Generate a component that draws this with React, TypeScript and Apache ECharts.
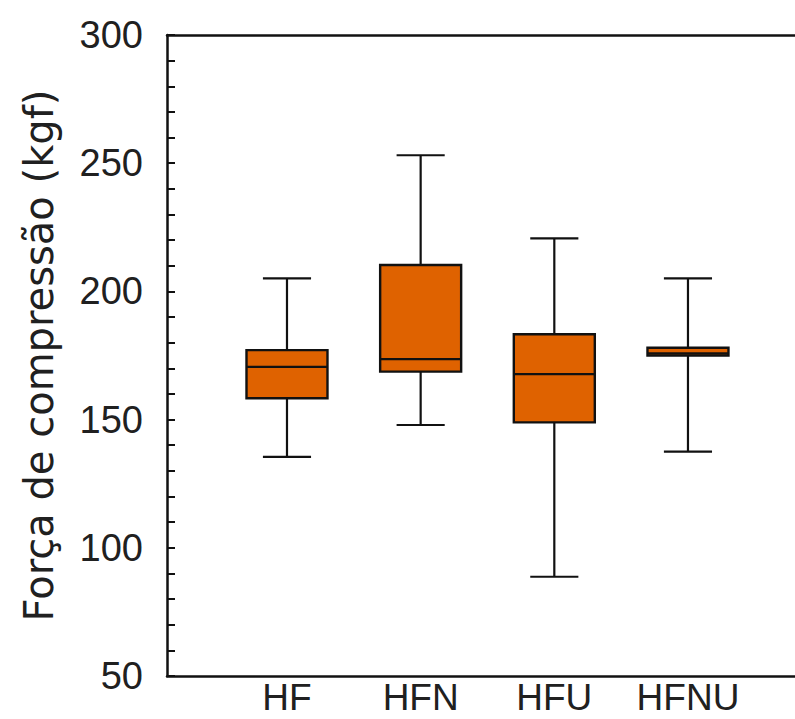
import React, { useEffect, useRef } from "react";
import * as echarts from "echarts";

const categories = ["HF", "HFN", "HFU", "HFNU"];
// [min, Q1, median, Q3, max]
const boxValues = [
  [135.5, 158.3, 170.6, 177.1, 205.1],
  [147.9, 168.7, 173.6, 210.3, 253.1],
  [88.7, 148.9, 167.7, 183.3, 220.7],
  [137.5, 175.0, 175.8, 178.0, 205.1],
];
const yTicks = [50, 100, 150, 200, 250, 300];
const yTitle = "Força de compressão (kgf)";

const FONT = "'Liberation Sans', Arial, sans-serif";
const TITLE_FONT = "'DejaVu Sans', 'Liberation Sans', sans-serif";
const ORANGE = "#DF6200";
const TEXT = "#202020";

export default function App() {
  const ref = useRef<HTMLDivElement>(null);
  useEffect(() => {
    const chart = echarts.init(ref.current!, null, { renderer: "svg" });
    const data = boxValues.map((v, i) => [i + 1, ...v]);
    chart.setOption({
      animation: false,
      backgroundColor: "#ffffff",
      grid: { left: 167, top: 35, width: 641, height: 641 },
      xAxis: [
        {
          type: "value",
          min: 0.1023,
          max: 4.898,
          position: "bottom",
          axisLine: { show: true, onZero: false, lineStyle: { color: "#111", width: 2.5 } },
          axisTick: { show: false },
          splitLine: { show: false },
          axisLabel: {
            customValues: [1, 2, 3, 4],
            formatter: (v: number) => categories[Math.round(v) - 1] ?? "",
            fontFamily: FONT,
            fontSize: 37,
            lineHeight: 37,
            color: TEXT,
            margin: 3,
          },
        },
        {
          type: "value",
          min: 0.1023,
          max: 4.898,
          position: "top",
          axisLine: { show: true, onZero: false, lineStyle: { color: "#111", width: 2.5 } },
          axisTick: { show: false },
          splitLine: { show: false },
          axisLabel: { show: false },
        },
      ],
      yAxis: {
        type: "value",
        min: yTicks[0],
        max: yTicks[yTicks.length - 1],
        interval: 50,
        name: yTitle,
        nameLocation: "middle",
        nameGap: 108,
        nameTextStyle: { fontFamily: TITLE_FONT, fontSize: 40, color: TEXT },
        axisLine: { show: true, onZero: false, lineStyle: { color: "#111", width: 2.5 } },
        axisTick: { show: true, inside: true, length: 8, lineStyle: { color: "#111", width: 2 } },
        minorTick: { show: true, splitNumber: 5, length: 8, lineStyle: { color: "#111", width: 2 } },
        splitLine: { show: false },
        axisLabel: { fontFamily: FONT, fontSize: 38, color: TEXT, margin: 24 },
      },
      series: [
        {
          type: "custom",
          xAxisIndex: 0,
          yAxisIndex: 0,
          data,
          encode: { x: 0, y: [1, 2, 3, 4, 5] },
          renderItem: (params: any, api: any) => {
            const x = api.value(0);
            const pMin = api.coord([x, api.value(1)]);
            const pQ1 = api.coord([x, api.value(2)]);
            const pMed = api.coord([x, api.value(3)]);
            const pQ3 = api.coord([x, api.value(4)]);
            const pMax = api.coord([x, api.value(5)]);
            const band = api.size([1, 0])[0];
            const boxHalf = band * 0.303;
            const capHalf = band * 0.18;
            const cx = pMed[0];
            const lineStyle = { stroke: "#111", lineWidth: 2.2 };
            return {
              type: "group",
              children: [
                { type: "line", shape: { x1: cx, y1: pMax[1], x2: cx, y2: pQ3[1] }, style: lineStyle },
                { type: "line", shape: { x1: cx, y1: pQ1[1], x2: cx, y2: pMin[1] }, style: lineStyle },
                { type: "line", shape: { x1: cx - capHalf, y1: pMax[1], x2: cx + capHalf, y2: pMax[1] }, style: lineStyle },
                { type: "line", shape: { x1: cx - capHalf, y1: pMin[1], x2: cx + capHalf, y2: pMin[1] }, style: lineStyle },
                {
                  type: "rect",
                  shape: { x: cx - boxHalf, y: pQ3[1], width: boxHalf * 2, height: pQ1[1] - pQ3[1] },
                  style: { fill: ORANGE, stroke: "#111", lineWidth: 2.4 },
                },
                { type: "line", shape: { x1: cx - boxHalf, y1: pMed[1], x2: cx + boxHalf, y2: pMed[1] }, style: lineStyle },
              ],
            };
          },
        },
      ],
    });
    return () => chart.dispose();
  }, []);
  return (
    <div style={{ position: "fixed", left: 0, top: 0, width: 795, height: 719, overflow: "hidden" }}>
      <div ref={ref} style={{ width: 840, height: 719 }} />
    </div>
  );
}
